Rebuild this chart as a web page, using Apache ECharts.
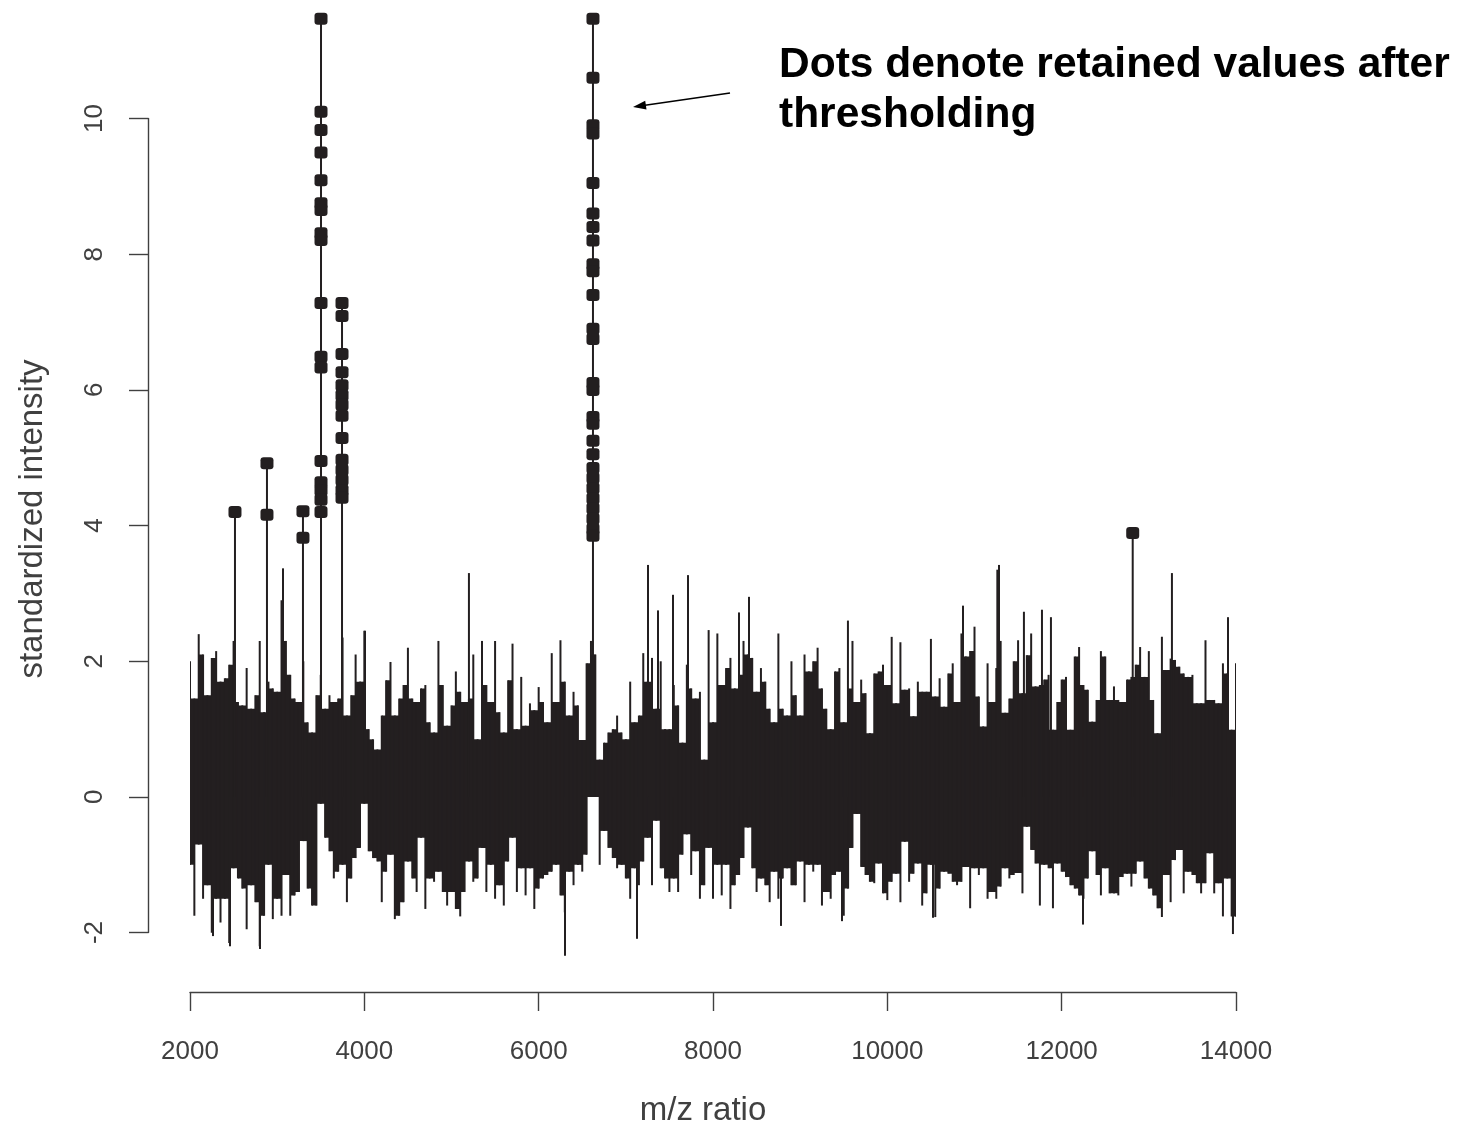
<!DOCTYPE html>
<html><head><meta charset="utf-8">
<script src="https://cdn.jsdelivr.net/npm/echarts@6/dist/echarts.min.js"></script>
<style>html,body{margin:0;padding:0;background:#fff}#c{width:1460px;height:1125px}</style>
</head><body><div id="c"></div>
<script>
// m/z sampling grid of the envelope columns
const mzStart = 2000, mzStep = 50;
// upper envelope of the standardized signal per m/z column
const upper = [
 2.0,1.45,2.4,2.1,1.5,2.05,2.15,1.7,1.75,1.95,2.3,
 1.4,1.35,1.9,1.3,1.5,2.3,1.25,1.7,1.6,1.55,2.9,2.3,1.8,1.45,1.4,2.0,1.1,0.95,1.5,1.8,
 1.3,1.5,1.4,1.45,2.35,1.2,1.5,2.1,1.7,2.45,
 1.0,0.85,0.7,1.2,1.72,1.99,1.2,1.45,1.65,2.2,1.45,1.4,1.6,1.65,1.1,0.95,2.3,1.65,1.05,1.35,1.85,1.55,1.4,1.45,2.1,0.85,2.3,1.65,1.4,2.3,1.25,0.95,
 1.72,2.26,1.0,1.77,1.05,1.38,1.28,1.62,1.4,1.1,2.12,1.4,2.31,1.7,1.2,1.55,1.35,0.84,1.97,2.3,
 2.1,0.55,0.8,0.95,1.0,1.2,0.95,0.85,1.7,1.1,1.2,2.12,1.7,2.05,1.3,2.0,1.0,1.0,1.65,1.35,
 0.8,1.95,1.6,1.45,1.55,0.55,2.46,1.1,2.41,1.65,1.9,2.05,1.6,1.8,2.3,2.1,2.05,1.55,1.9,1.7,
 1.3,1.1,2.41,1.3,1.2,2.0,1.5,1.2,2.1,1.85,2.0,2.2,1.6,1.3,1.0,1.85,1.9,1.1,1.6,2.3,1.4,
 1.73,1.53,0.94,1.82,1.85,1.95,1.65,2.36,1.38,2.28,1.58,1.6,1.19,1.7,1.55,1.55,2.33,1.48,1.75,1.33,
 1.82,1.97,1.4,2.41,2.07,2.15,2.51,1.48,1.04,1.97,1.4,1.9,2.3,1.24,1.45,2.0,2.31,1.53,2.09,2.41,
 1.63,1.65,1.73,1.8,0.99,1.4,1.73,1.77,0.99,2.07,2.21,1.65,1.58,1.11,1.43,2.15,2.07,1.43,1.63,1.43,
 1.4,1.73,1.77,1.95,2.21,1.77,2.15,1.43,0.94,2.36,1.87,2.04,2.02,1.92,1.82,1.77,1.8,1.38,1.38,2.31,
 1.43,1.43,1.38,1.97,1.82,0.99,1.97
];
// lower envelope per m/z column
const lower = [
 -1.0,-1.75,-0.7,-1.5,-1.3,-2.0,-1.5,-1.85,-1.5,-2.15,-1.05,
 -1.2,-1.35,-1.95,-1.3,-1.55,-2.2,-1.75,-1.0,-1.8,-1.5,-1.75,-1.15,-1.75,-1.45,-1.4,-0.65,-1.35,-1.6,-1.6,-0.1,
 -0.6,-0.8,-1.2,-1.1,-1.0,-1.55,-1.2,-0.9,-0.75,-0.1,
 -0.8,-0.9,-0.95,-1.55,-1.1,-0.85,-1.8,-1.75,-1.55,-0.95,-1.2,-1.4,-0.6,-1.65,-1.2,-1.25,-1.1,-1.4,-1.6,-1.4,-1.65,-1.76,-1.4,-0.95,-1.25,-1.2,-0.75,-1.4,-1.0,-1.5,-1.3,-1.6,
 -0.95,-0.6,-1.4,-1.05,-1.45,-1.05,-1.65,-1.35,-1.2,-1.15,-1.1,-1.0,-1.45,-1.7,-1.1,-1.3,-1.0,-1.1,-0.85,0.0,
 0.0,-1.0,-0.5,-0.75,-0.9,-1.05,-1.0,-1.2,-1.5,-1.05,-1.3,-0.95,-0.6,-1.3,-0.35,-1.05,-1.2,-1.4,-1.2,-1.4,
 -0.85,-0.55,-1.15,-0.8,-1.5,-1.3,-0.75,-1.5,-1.0,-1.45,-1.0,-1.65,-1.3,-1.15,-0.9,-0.45,-1.05,-1.4,-1.2,-1.3,
 -1.55,-1.1,-1.5,-1.2,-1.05,-1.3,-1.3,-0.95,-1.55,-1.0,-1.1,-1.0,-1.6,-1.4,-1.5,-1.15,-1.1,-1.75,-1.35,-0.75,-0.25,
 -1.03,-1.15,-1.25,-1.27,-0.98,-1.42,-1.52,-1.25,-1.13,-1.55,-0.66,-1.25,-1.13,-0.98,-1.6,-1.42,-1.0,-1.77,-1.35,-1.1,
 -1.13,-1.25,-1.3,-1.25,-1.03,-1.64,-1.05,-1.15,-1.05,-1.5,-1.4,-1.5,-1.32,-1.05,-1.2,-1.15,-1.12,-1.42,-0.44,-0.78,
 -0.98,-1.6,-1.0,-1.05,-1.64,-0.98,-1.1,-1.18,-1.3,-1.35,-1.45,-1.5,-1.2,-0.8,-1.15,-1.45,-1.05,-1.42,-1.42,-1.45,
 -1.18,-1.13,-1.32,-1.13,-0.95,-1.2,-1.35,-1.45,-1.64,-1.77,-1.15,-1.55,-0.93,-0.78,-1.42,-1.1,-1.15,-1.27,-1.42,-1.27,
 -0.83,-1.42,-1.27,-1.76,-1.2,-1.76,-1.76
];
// isolated thin spikes (m/z, intensity)
const spikeMz  = [2516,2883,3067,3296,3503,3744,4008,5200,6623,7254,7369,7541,7713,8298,8413,9548,10868,11262,11281,11567,11774,11877,12815,13265,13908,
                  2264,2459,2803,6302,7128,8780,9480,10524,12245,13965];
const spikeVal = [4.2,4.92,3.37,4.21,11.47,7.28,2.45,3.30,11.47,3.42,2.75,2.98,3.27,2.72,2.95,2.6,2.82,3.35,3.42,2.73,2.76,2.65,3.89,3.30,2.65,
                  -2.05,-2.2,-2.24,-2.34,-2.09,-1.9,-1.83,-1.78,-1.88,-2.02];
// retained values after thresholding (dots)
const peakMz = [2516, 2883, 3296, 3503, 3744, 6623, 12815];
const peakDots = [
  [4.2],
  [4.92, 4.16],
  [4.21, 3.82],
  [11.47, 10.1, 9.83, 9.5, 9.09, 8.75, 8.65, 8.31, 8.21, 7.28, 6.49, 6.33, 4.95, 4.64, 4.52, 4.38, 4.2],
  [7.28, 7.09, 6.53, 6.26, 6.07, 5.92, 5.78, 5.62, 5.29, 4.97, 4.82, 4.67, 4.52, 4.41],
  [11.47, 10.6, 9.9, 9.78, 9.05, 8.6, 8.4, 8.2, 7.85, 7.75, 7.4, 6.9, 6.75, 6.1, 6.0, 5.6, 5.5, 5.25, 5.05, 4.85, 4.7, 4.55, 4.4, 4.25, 4.1, 3.95, 3.85],
  [3.89]
];
const xTickStep = 2000, yTickStep = 2;

const INK = '#231f20', AX = '#404040', FONT = '"Liberation Sans", Arial, sans-serif';
const cols = upper.map((h, k) => [mzStart + k * mzStep, lower[k], h]);
const spikes = spikeMz.map((m, i) => [m, spikeVal[i]]);
const dots = [];
peakMz.forEach((m, i) => peakDots[i].forEach(v => dots.push([m, v])));

const chart = echarts.init(document.getElementById('c'), null, {renderer: 'canvas'});
chart.setOption({
  animation: false,
  backgroundColor: '#fff',
  grid: [
    {left: 190, right: 224, top: 0, bottom: 133},
    {left: 148, top: 118.5, height: 814, width: 1000}
  ],
  xAxis: [
    {type: 'value', gridIndex: 0, min: 2000, max: 14000, interval: xTickStep,
     axisLine: {show: true, onZero: false, lineStyle: {color: AX, width: 1.4}},
     axisTick: {show: true, length: 19, lineStyle: {color: AX, width: 1.4}},
     axisLabel: {margin: 47, fontSize: 26, color: AX, fontFamily: FONT, formatter: v => String(v)},
     splitLine: {show: false}},
    {type: 'value', gridIndex: 1, min: 0, max: 1, show: false}
  ],
  yAxis: [
    {type: 'value', gridIndex: 0, min: -2.874, max: 11.746, show: false},
    {type: 'value', gridIndex: 1, min: -2, max: 10, interval: yTickStep,
     axisLine: {show: true, onZero: false, lineStyle: {color: AX, width: 1.4}},
     axisTick: {show: true, length: 19, lineStyle: {color: AX, width: 1.4}},
     axisLabel: {rotate: 90, margin: 40, fontSize: 26, color: AX, fontFamily: FONT, formatter: v => String(v)},
     splitLine: {show: false}}
  ],
  series: [
    {type: 'custom', xAxisIndex: 0, yAxisIndex: 0, clip: true, data: cols,
     encode: {x: 0, y: [1, 2]},
     renderItem: function (params, api) {
       const k = params.dataIndex;
       const x = api.value(0), lo = api.value(1), hi = api.value(2);
       const pt = api.coord([x, hi]), pb = api.coord([x, lo]);
       const children = [{type: 'rect', shape: {x: pt[0] - 1, y: pt[1], width: 2, height: pb[1] - pt[1]},
                          style: {fill: INK}}];
       if (k + 1 < upper.length) {
         const top = Math.min(hi, upper[k + 1]), bot = Math.max(lo, lower[k + 1]);
         const a = api.coord([x, top]), b = api.coord([x + mzStep, bot]);
         children.push({type: 'rect', shape: {x: a[0], y: a[1], width: b[0] - a[0] + 0.3, height: b[1] - a[1]},
                        style: {fill: INK}});
       }
       return {type: 'group', children: children};
     }},
    {type: 'custom', xAxisIndex: 0, yAxisIndex: 0, clip: true, data: spikes,
     encode: {x: 0, y: 1},
     renderItem: function (params, api) {
       const p0 = api.coord([api.value(0), 0]);
       const p1 = api.coord([api.value(0), api.value(1)]);
       return {type: 'line', shape: {x1: p0[0], y1: p0[1], x2: p1[0], y2: p1[1]},
               style: {stroke: INK, lineWidth: 2}};
     }},
    {type: 'scatter', xAxisIndex: 0, yAxisIndex: 0, data: dots,
     symbol: 'roundRect', symbolSize: [13, 12],
     itemStyle: {color: INK, opacity: 1}, z: 5}
  ],
  graphic: [
    {type: 'text', x: 33, y: 519, rotation: Math.PI / 2,
     style: {text: 'standardized intensity', font: '33px ' + FONT, fill: AX, align: 'center', verticalAlign: 'middle'}},
    {type: 'text', x: 703, y: 1111,
     style: {text: 'm/z ratio', font: '33px ' + FONT, fill: AX, align: 'center', verticalAlign: 'middle'}},
    {type: 'text', x: 779, y: 65,
     style: {text: 'Dots denote retained values after', font: 'bold 42.5px ' + FONT, fill: '#000', align: 'left', verticalAlign: 'middle'}},
    {type: 'text', x: 779, y: 115,
     style: {text: 'thresholding', font: 'bold 42.5px ' + FONT, fill: '#000', align: 'left', verticalAlign: 'middle'}},
    {type: 'line', shape: {x1: 730, y1: 93, x2: 645, y2: 105.2}, style: {stroke: '#000', lineWidth: 1.6}},
    {type: 'polygon', shape: {points: [[633, 107], [646.5, 109.6], [645.2, 100.7]]}, style: {fill: '#000'}}
  ]
});
</script>
</body></html>
